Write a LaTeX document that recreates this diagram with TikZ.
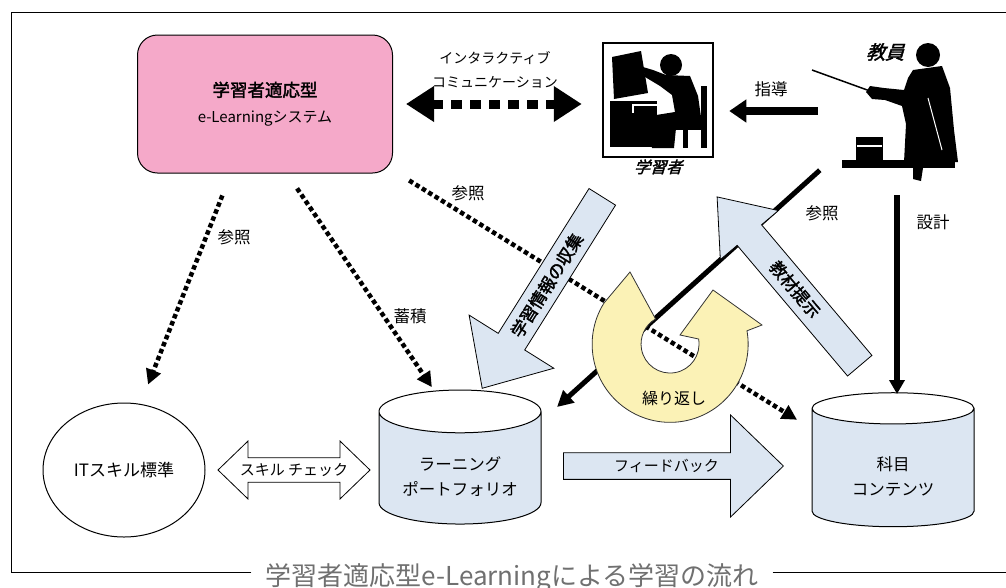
\documentclass[tikz,border=0pt]{standalone}
\usepackage{fontspec}
\setmainfont{Noto Sans CJK JP}
\newfontfamily\jpbold[FakeBold=2]{Noto Sans CJK JP}
\newfontfamily\jpslant[FakeBold=2,FakeSlant=0.3]{Noto Sans CJK JP}
\usetikzlibrary{arrows.meta,shapes.arrows,shapes.geometric}

\definecolor{syspink}{HTML}{F5A9C9}
\definecolor{flowblue}{HTML}{DCE6F2}
\definecolor{loopyellow}{HTML}{FBF2B6}
\definecolor{capgray}{HTML}{707070}

\tikzset{
	lbl/.style={font=\fontsize{16.5}{18}\selectfont, inner sep=1pt},
	sysbox/.style={draw, line width=1pt, fill=syspink, rounded corners=20pt, minimum width=255pt, minimum height=138pt, align=center, font=\fontsize{15}{26}\selectfont},
	store/.style={cylinder, shape border rotate=90, aspect=0.35, draw, line width=1pt, cylinder uses custom fill, cylinder body fill=flowblue, cylinder end fill=white, minimum width=162pt, minimum height=134pt, align=center, font=\fontsize{16.5}{25}\selectfont},
	blockarrow/.style={draw, line width=0.8pt, fill=flowblue, font=\fontsize{15}{18}\selectfont},
	refline/.style={line width=4.5pt, dash pattern=on 4.5pt off 3pt, -{Triangle[length=15pt,width=15pt]}},
	solidline/.style={line width=5pt, -{Triangle[length=16pt,width=16pt]}},
	interact/.style={line width=9pt, dash pattern=on 11pt off 8pt, {Triangle[length=28pt,width=34pt]}-{Triangle[length=28pt,width=34pt]}},
	frameline/.style={line width=1pt}
}

\begin{document}
\begin{tikzpicture}[x=1pt,y=-1pt]
	\useasboundingbox (0,0) rectangle (1006,587);

	%frame and caption
	\node[font=\fontsize{26}{26}\selectfont, text=capgray, anchor=base, inner xsep=14pt] (caption) at (512,585) {学習者適応型e-Learningによる学習の流れ};
	\draw[frameline] (caption.west |- 0,572) -- (11,572) -- (11,12) -- (1006,12);
	\draw[frameline] (caption.east |- 0,572) -- (1006,572);

	%system
	\node[sysbox] (sys) at (265,104) {{\jpbold\fontsize{17.5}{20}\selectfont 学習者適応型}\\e-Learningシステム};

	%learner icon
	\node[draw, line width=2.5pt, fill=white, minimum width=110pt, minimum height=114pt,
		label={[font=\jpslant\fontsize{16}{16}\selectfont, inner sep=1pt]below:学習者}] (learner) at (658,100) {};
	\fill (612,57) -- (641,51) -- (648,93) -- (614,99) -- cycle;		%monitor
	\fill (610,101) rectangle (657,147);								%desk
	\draw[white, line width=1.5pt] (632,105) -- (657,105) (633,105) -- (633,113);
	\fill (671,65) circle (11pt);										%head
	\fill (643,67) -- (653,70) -- (666,75) -- (690,76) -- (698,96) -- (702,124) -- (676,128) -- (674,148)
		-- (652,148) -- (650,116) -- (675,112) -- (672,95) -- (660,86) -- (645,77) -- cycle;	%body
	\fill (701,86) rectangle (707,148);									%chair
	\fill (676,124) rectangle (707,130);
	\fill (683,130) rectangle (688,148);

	%teacher figure
	\node[minimum width=140pt, minimum height=140pt] (teacher) at (890,100) {};
	\fill (928,55) circle (12pt);										%head
	\fill (913,70) -- (942,66) -- (950,88) -- (954,130) -- (958,162) -- (904,162) -- (906,124) -- (902,106)
		-- (885,100) -- (872,99) -- (866,92) -- (870,86) -- (884,88) -- (904,90) -- (908,78) -- cycle;	%body
	\draw[white, line width=1pt] (928,98) -- (942,150);
	\draw[line width=1.5pt] (812,70) -- (870,91);						%pointer
	\fill (856,137) rectangle (883,161);								%books
	\draw[white, line width=1.2pt] (857,146) -- (882,146);
	\fill (842,160) rectangle (955,168);								%desk
	\fill (913,168) -- (923,168) -- (921,181) -- (913,179) -- cycle;
	\node[font=\jpslant\fontsize{19}{19}\selectfont] (teachername) at (885,52) {教員};

	%lower nodes
	\node[draw, ellipse, line width=1pt, fill=white, minimum width=162pt, minimum height=134pt, font=\fontsize{17}{18}\selectfont] (it) at (124,470) {ITスキル標準};
	\node[store] (lp) at (460,471) {\rule{0pt}{26pt}ラーニング\\ポートフォリオ};
	\node[store] (cc) at (893,470) {\rule{0pt}{26pt}科目\\コンテンツ};
	\node[blockarrow, double arrow, fill=white, minimum height=152pt, minimum width=58pt,
		double arrow head extend=14pt, double arrow tip angle=88] (skill) at (294,470) {スキル チェック};
	\node[blockarrow, single arrow, anchor=tail, minimum height=220pt, minimum width=102pt,
		single arrow head extend=29.5pt, single arrow tip angle=88] (feedback) at (563,466) {フィードバック};

	%connectors
	\draw[interact, shorten <=13pt, shorten >=20pt] (sys.east) -- (sys.east -| learner.west);
	\draw[solidline, line width=8pt, -{Triangle[length=17pt,width=22pt]}, shorten <=2pt, shorten >=15pt]
		([yshift=-11pt]teacher.west) -- ([yshift=-11pt]teacher.west -| learner.east);		%guidance
	\draw[refline, shorten <=23.6pt, shorten >=19.3pt] ([shift={(-34,0)}]sys.south) -- ([shift={(17,0)}]it.north);
	\draw[refline, shorten <=18pt, shorten >=21.6pt] ([shift={(22,0)}]sys.south) -- ([shift={(-16,-66)}]lp.center);
	\draw[solidline, line width=6pt, -{Triangle[length=14pt,width=15pt]}, shorten <=25pt, shorten >=8pt]
		([shift={(7,0)}]teacher.south) -- ([shift={(4,-68)}]cc.center);						%design
	\draw[refline, shorten <=19pt, shorten >=17.6pt] ([shift={(0,-3)}]sys.south east) -- ([shift={(-81,-41)}]cc.center);
	\draw[solidline] (teacher.south west) -- ([shift={(97,-64)}]lp.center);

	%big arrows over the lines
	\node[blockarrow, single arrow, shape border rotate=180, rotate=57.9, anchor=tail, minimum height=226pt, minimum width=100pt,
		single arrow head extend=25.5pt, single arrow tip angle=84.5, font=\jpbold\fontsize{17}{18}\selectfont] (collect) at (602.5,196.5) {学習情報の収集};
	\node[blockarrow, single arrow, shape border rotate=180, rotate=-49.8, anchor=tail, minimum height=221pt, minimum width=76pt,
		single arrow head extend=16pt, single arrow tip angle=74.5, font=\jpbold\fontsize{17}{18}\selectfont] (present) at (860,366) {教材提示};

	%repeat loop
	\filldraw[fill=loopyellow, draw=black!80, line width=0.8pt] (630,272) -- (604,303) arc[start angle=212, end angle=-10, radius=78]
		-- (762,325) -- (713,290) -- (680,335) -- (698.6,339) arc[start angle=-10, end angle=240, radius=29] -- cycle;
	\node[lbl, font=\fontsize{16}{18}\selectfont] (repeat) at (674,398) {繰り返し};

	%labels
	\node[lbl, align=center, font=\fontsize{14}{24}\selectfont] (interactlbl) at (495,70) {インタラクティブ\\コミュニケーション};
	\node[lbl] (guidelbl) at (771,89) {指導};
	\node[lbl] (ref1) at (234,237) {参照};
	\node[lbl] (store1) at (410,316) {蓄積};
	\node[lbl] (ref2) at (468,193) {参照};
	\node[lbl] (ref3) at (822,213) {参照};
	\node[lbl] (design) at (933,222) {設計};
\end{tikzpicture}
\end{document}
